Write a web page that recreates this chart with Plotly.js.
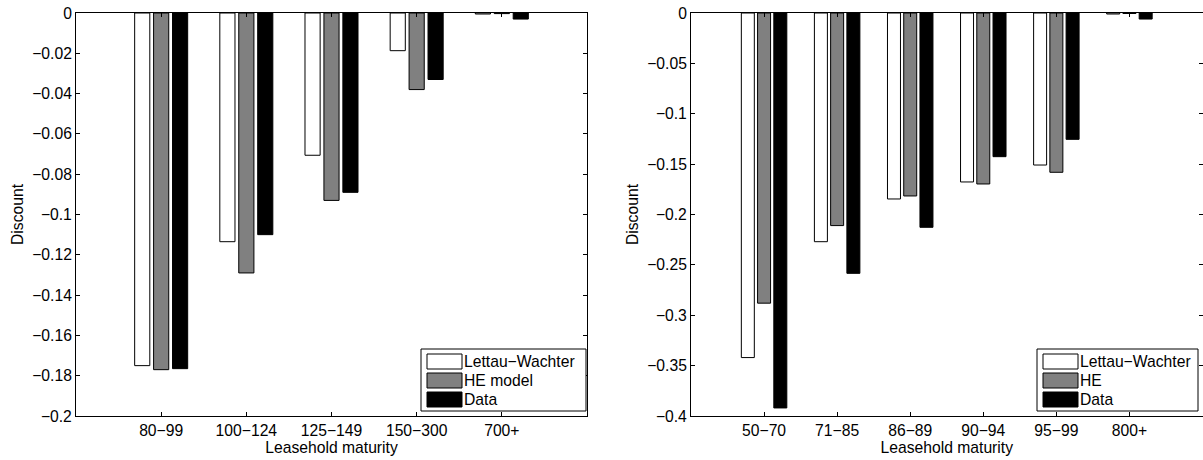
<!DOCTYPE html>
<html>
<head>
<meta charset="utf-8">
<script src="https://cdn.plot.ly/plotly-3.0.1.min.js"></script>
<style>html,body{margin:0;padding:0;background:#fff;}#chart{width:1203px;height:460px;}</style>
</head>
<body>
<div id="chart"></div>
<script>
// ---- data ----
const leftCategories = ['80\u221299', '100\u2212124', '125\u2212149', '150\u2212300', '700+'];
const leftLettauWachter = [-0.175, -0.1135, -0.0706, -0.0187, -0.0005];
const leftHEModel = [-0.177, -0.129, -0.093, -0.038, -0.0003];
const leftData = [-0.1765, -0.110, -0.089, -0.033, -0.003];

const rightCategories = ['50\u221270', '71\u221285', '86\u221289', '90\u221294', '95\u221299', '800+'];
const rightLettauWachter = [-0.342, -0.227, -0.1846, -0.1677, -0.1509, -0.001];
const rightHE = [-0.288, -0.211, -0.1816, -0.1697, -0.1581, -0.0005];
const rightData = [-0.392, -0.2584, -0.2127, -0.1426, -0.1254, -0.006];

const leftSeriesNames = ['Lettau\u2212Wachter', 'HE model', 'Data'];
const rightSeriesNames = ['Lettau\u2212Wachter', 'HE', 'Data'];
const seriesColors = ['#ffffff', '#808080', '#000000'];

const xTitle = 'Leasehold maturity';
const yTitle = 'Discount';

// ---- layout helpers ----
const W = 1203, H = 460;
const px = x => x / W;
const py = y => 1 - y / H;
const FONT = '"Liberation Sans", Arial, Helvetica, sans-serif';
const FS = 15.7;

function barTrace(cats, vals, color, name, xa, ya) {
  return {
    type: 'bar', x: cats, y: vals, name: name, xaxis: xa, yaxis: ya,
    marker: {color: color, line: {color: '#000000', width: 1}},
    showlegend: false, hoverinfo: 'x+y+name'
  };
}

const traces = [
  barTrace(leftCategories, leftLettauWachter, seriesColors[0], leftSeriesNames[0], 'x', 'y'),
  barTrace(leftCategories, leftHEModel, seriesColors[1], leftSeriesNames[1], 'x', 'y'),
  barTrace(leftCategories, leftData, seriesColors[2], leftSeriesNames[2], 'x', 'y'),
  barTrace(rightCategories, rightLettauWachter, seriesColors[0], rightSeriesNames[0], 'x2', 'y2'),
  barTrace(rightCategories, rightHE, seriesColors[1], rightSeriesNames[1], 'x2', 'y2'),
  barTrace(rightCategories, rightData, seriesColors[2], rightSeriesNames[2], 'x2', 'y2')
];

const yDomain = [py(416), py(13)];

function xAxis(domain, n, anchor) {
  return {
    domain: domain, anchor: anchor, type: 'category', range: [-1, n],
    showline: true, linecolor: '#000', linewidth: 1, mirror: 'ticks',
    ticks: 'inside', ticklen: 4, tickcolor: '#000', showgrid: false, zeroline: false,
    tickfont: {family: FONT, size: FS, color: '#000'},
    title: {text: xTitle, font: {family: FONT, size: FS, color: '#000'}, standoff: 1},
    automargin: false
  };
}
function yAxis(range, dtick, anchor) {
  return {
    domain: yDomain, anchor: anchor, range: range, dtick: dtick, tick0: 0,
    showline: true, linecolor: '#000', linewidth: 1, mirror: 'ticks',
    ticks: 'inside', ticklen: 4, tickcolor: '#000', showgrid: false, zeroline: false,
    tickfont: {family: FONT, size: FS, color: '#000'},
    title: {text: yTitle, font: {family: FONT, size: FS, color: '#000'}, standoff: 4},
    automargin: false
  };
}

// ---- legends (drawn as boxes + labels) ----
const shapes = [];
const annotations = [];
function addLegend(boxL, boxR, names) {
  shapes.push({type: 'rect', xref: 'paper', yref: 'paper',
    x0: px(boxL), x1: px(boxR), y0: py(411), y1: py(349),
    line: {color: '#000', width: 1}, fillcolor: '#fff', layer: 'above'});
  const rowTop = [354, 373, 392];
  names.forEach((nm, i) => {
    shapes.push({type: 'rect', xref: 'paper', yref: 'paper',
      x0: px(boxL + 6), x1: px(boxL + 41), y0: py(rowTop[i] + 15), y1: py(rowTop[i]),
      line: {color: '#000', width: 1}, fillcolor: seriesColors[i], layer: 'above'});
    annotations.push({xref: 'paper', yref: 'paper', x: px(boxL + 41), y: py(rowTop[i] + 7.5),
      xanchor: 'left', yanchor: 'middle', showarrow: false, text: nm,
      font: {family: FONT, size: FS, color: '#000'}});
  });
}
addLegend(421, 586, leftSeriesNames);
addLegend(1037, 1198, rightSeriesNames);

const layout = {
  width: W, height: H,
  margin: {l: 0, r: 0, t: 0, b: 0, pad: 0},
  paper_bgcolor: '#fff', plot_bgcolor: '#fff',
  font: {family: FONT, size: FS, color: '#000'},
  barmode: 'group', bargap: 0.333, bargroupgap: 0.2,
  showlegend: false,
  xaxis: xAxis([px(76), px(587)], leftCategories.length, 'y'),
  yaxis: yAxis([-0.2, 0], 0.02, 'x'),
  xaxis2: xAxis([px(691), px(1202.5)], rightCategories.length, 'y2'),
  yaxis2: yAxis([-0.4, 0], 0.05, 'x2'),
  shapes: shapes,
  annotations: annotations
};

Plotly.newPlot('chart', traces, layout, {displayModeBar: false, staticPlot: true});
</script>
</body>
</html>
